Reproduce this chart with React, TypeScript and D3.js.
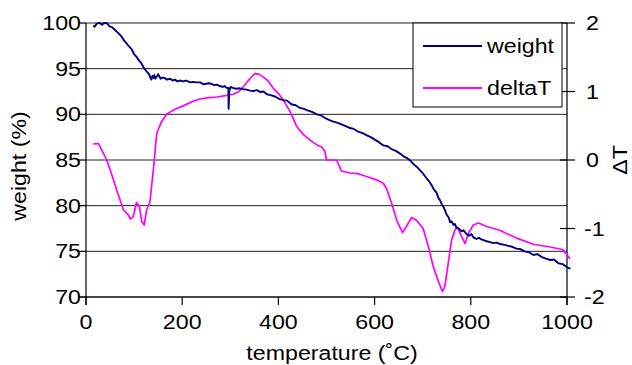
import React from "react";
import * as d3 from "d3";

// weight curve (temperature in C, weight in %)
const weightTemp = [15, 18, 22, 26, 29, 33, 36, 40, 43, 47, 50, 54, 57, 61, 64, 69, 74, 79, 84, 90, 95, 100, 105, 110, 115, 120, 126, 131, 134, 136, 138, 140, 142, 144, 147, 150, 152, 155, 158, 163, 168, 175, 180, 185, 190, 195, 202, 207, 212, 217, 222, 230, 237, 244, 250, 256, 262, 267, 272, 278, 284, 288, 292, 296, 296.5, 298, 301, 305, 312, 320, 327, 334, 341, 348, 355, 362, 369, 376, 384, 393, 401, 410, 418, 427, 436, 445, 453, 462, 471, 480, 488, 497, 505, 514, 522, 531, 540, 549, 557, 566, 575, 584, 592, 601, 609, 618, 627, 635, 644, 653, 660, 668, 674, 680, 687, 694, 701, 708, 713, 718, 723, 729, 733, 736, 740, 743, 747, 750, 754, 757, 760, 764, 767, 770, 775, 780, 785, 791, 796, 801, 806, 812, 817, 822, 828, 833, 840, 847, 854, 861, 870, 878, 886, 895, 903, 912, 921, 930, 938, 947, 956, 965, 973, 982, 991, 1000, 1007];
const weightVals = [99.7, 99.6, 99.9, 100, 100, 99.8, 99.95, 100, 100, 99.75, 99.6, 99.55, 99.4, 99.2, 99.05, 98.8, 98.5, 98.1, 97.8, 97.4, 97.1, 96.6, 96.3, 95.9, 95.6, 95.1, 94.7, 94.4, 94.0, 93.8, 94.2, 94.0, 94.3, 93.9, 94.1, 94.4, 94.2, 93.9, 94.0, 94.0, 93.8, 93.9, 93.7, 93.8, 93.6, 93.7, 93.6, 93.7, 93.6, 93.5, 93.55, 93.5, 93.5, 93.3, 93.35, 93.4, 93.3, 93.2, 93.25, 93.1, 93.0, 93.1, 92.9, 92.9, 90.6, 92.6, 93.0, 92.9, 92.8, 92.85, 92.75, 92.7, 92.6, 92.55, 92.65, 92.45, 92.5, 92.2, 92.1, 91.95, 91.7, 91.55, 91.5, 91.1, 91.0, 90.7, 90.6, 90.4, 90.25, 90.0, 89.9, 89.6, 89.4, 89.2, 89.1, 88.9, 88.7, 88.5, 88.4, 88.1, 87.95, 87.7, 87.5, 87.2, 86.95, 86.6, 86.5, 86.2, 86.0, 85.7, 85.4, 85.2, 84.95, 84.6, 84.3, 83.9, 83.5, 83.0, 82.7, 82.3, 81.8, 81.4, 80.8, 80.6, 80.1, 79.9, 79.4, 79.0, 78.7, 78.2, 78.3, 77.9, 78.0, 77.6, 77.5, 77.2, 77.3, 76.9, 76.7, 76.9, 76.5, 76.35, 76.5, 76.3, 76.2, 76.1, 76.0, 75.9, 75.95, 75.8, 75.7, 75.6, 75.5, 75.3, 75.25, 75.0, 74.9, 74.6, 74.7, 74.4, 74.2, 74.05, 74.1, 73.7, 73.6, 73.25, 73.1];

// delta T curve
const deltaTemp = [15, 20, 26, 36, 43, 53, 64, 78, 88, 92, 98, 105, 111, 116, 121, 126, 133, 137, 140, 147, 157, 168, 185, 202, 220, 237, 255, 272, 290, 306, 318, 327, 341, 351, 360, 369, 379, 389, 400, 410, 424, 438, 452, 466, 480, 490, 497, 500, 521, 531, 549, 566, 583, 604, 618, 625, 635, 646, 658, 666, 677, 687, 701, 712, 722, 733, 741, 746, 753, 760, 767, 772, 779, 788, 795, 805, 816, 833, 861, 895, 930, 965, 992, 1006];
const deltaVals = [0.23, 0.24, 0.24, 0.1, 0.0, -0.2, -0.44, -0.73, -0.8, -0.86, -0.83, -0.62, -0.68, -0.9, -0.95, -0.73, -0.61, -0.34, -0.15, 0.39, 0.56, 0.67, 0.74, 0.79, 0.85, 0.89, 0.91, 0.92, 0.94, 0.96, 1.0, 1.07, 1.19, 1.26, 1.25, 1.21, 1.15, 1.05, 0.97, 0.88, 0.71, 0.49, 0.37, 0.29, 0.22, 0.19, 0.12, 0.0, 0.0, -0.16, -0.19, -0.2, -0.24, -0.29, -0.34, -0.42, -0.62, -0.88, -1.06, -0.97, -0.84, -0.88, -1.0, -1.27, -1.56, -1.78, -1.92, -1.85, -1.51, -1.17, -1.02, -0.98, -1.09, -1.22, -1.07, -0.95, -0.92, -0.97, -1.03, -1.14, -1.23, -1.27, -1.31, -1.44];

const xTicks = [0, 200, 400, 600, 800, 1000];
const leftTicks = [70, 75, 80, 85, 90, 95, 100];
const rightTicks = [-2, -1, 0, 1, 2];
const seriesNames = ["weight", "deltaT"];
const seriesColors = ["#000080", "#ff00ff"];

const font = "'Liberation Sans', Arial, Helvetica, sans-serif";
const SX = 1.16; // text in the picture is a bit wide

// stretched text label
const Label = ({ x, y, anchor = "start", rotate = 0, children }: any) => (
  <text
    transform={`translate(${x},${y}) rotate(${rotate}) scale(${SX},1)`}
    textAnchor={anchor}
    fontSize={20}
  >
    {children}
  </text>
);

export default function App() {
  const left = 86, right = 567, top = 23, bottom = 297;

  const x = d3.scaleLinear().domain([0, 1000]).range([left, right]);
  const yW = d3.scaleLinear().domain([70, 100]).range([bottom, top]);
  const yD = d3.scaleLinear().domain([-2, 2]).range([bottom, top]);

  const wLine = d3.line<number>()
    .x((d, i) => x(weightTemp[i]))
    .y((d) => yW(d));
  const dLine = d3.line<number>()
    .x((d, i) => x(deltaTemp[i]))
    .y((d) => yD(d));

  const legend = { x: 413, y: 23, w: 149, h: 84 };

  return (
    <svg width={632} height={365} style={{ position: "absolute", left: 0, top: 0, background: "#fff" }} fontFamily={font}>
      {/* grid lines */}
      {leftTicks.map((t) => (
        <line key={"g" + t} x1={left} x2={right} y1={yW(t)} y2={yW(t)} stroke="#222" strokeWidth={1} />
      ))}

      {/* axes */}
      <line x1={left} x2={left} y1={top} y2={bottom + 8} stroke="#000" strokeWidth={1.2} />
      <line x1={right} x2={right} y1={top} y2={bottom + 8} stroke="#000" strokeWidth={1.2} />
      <line x1={left - 8} x2={right} y1={bottom} y2={bottom} stroke="#000" strokeWidth={1.2} />

      {leftTicks.map((t) => (
        <g key={"l" + t}>
          <line x1={left - 8} x2={left} y1={yW(t)} y2={yW(t)} stroke="#000" strokeWidth={1.2} />
          <Label x={81} y={yW(t) + 7} anchor="end">{t}</Label>
        </g>
      ))}
      {rightTicks.map((t) => (
        <g key={"r" + t}>
          <line x1={right - 7} x2={right + 8} y1={yD(t)} y2={yD(t)} stroke="#000" strokeWidth={1.2} />
          <Label x={t < 0 ? 584 : 586} y={yD(t) + 7}>{t < 0 ? "-" + Math.abs(t) : t}</Label>
        </g>
      ))}
      {xTicks.map((t) => (
        <g key={"x" + t}>
          <line x1={x(t)} x2={x(t)} y1={bottom} y2={bottom + 8} stroke="#000" strokeWidth={1.2} />
          <Label x={x(t)} y={329} anchor="middle">{t}</Label>
        </g>
      ))}

      {/* titles */}
      <Label x={332} y={360} anchor="middle">temperature (˚C)</Label>
      <Label x={26} y={166} anchor="middle" rotate={-90}>weight (%)</Label>
      <Label x={627} y={160} anchor="middle" rotate={-90}>ΔT</Label>

      {/* series */}
      <path d={dLine(deltaVals) || ""} fill="none" stroke={seriesColors[1]} strokeWidth={1.7} strokeLinejoin="round" />
      <path d={wLine(weightVals) || ""} fill="none" stroke={seriesColors[0]} strokeWidth={1.9} strokeLinejoin="round" />

      {/* legend */}
      <rect x={legend.x} y={legend.y} width={legend.w} height={legend.h} fill="#fff" stroke="#000" strokeWidth={1} />
      {seriesNames.map((name, i) => (
        <g key={name}>
          <line x1={423} x2={482} y1={46 + i * 42} y2={46 + i * 42} stroke={seriesColors[i]} strokeWidth={1.8} />
          <Label x={487} y={46 + i * 42 + 7}>{name}</Label>
        </g>
      ))}
    </svg>
  );
}
